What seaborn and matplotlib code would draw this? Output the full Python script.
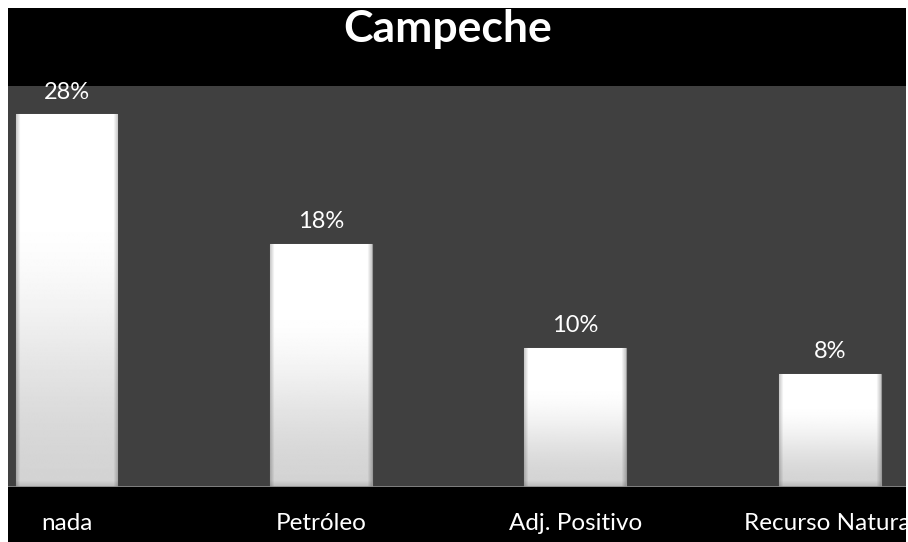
import numpy as np
import matplotlib
matplotlib.use("Agg")
import matplotlib.pyplot as plt
from matplotlib.patches import Rectangle
import seaborn as sns

# ---- data ----
categories = ["nada", "Petróleo", "Adj. Positivo", "Recurso Natural"]
values = [27.6, 18.0, 10.3, 8.4]
value_labels = ["28%", "18%", "10%", "8%"]
title = "Campeche"

sns.set_theme(style="dark")
plt.rcParams["font.family"] = ["Lato", "DejaVu Sans"]

W, H = 908, 542
fig = plt.figure(figsize=(W / 100, H / 100), dpi=100, facecolor="black")
ax = fig.add_axes([8 / W, (H - 487) / H, (906 - 8) / W, (487 - 86) / H])
ax.set_facecolor("#404040")

sns.barplot(x=categories, y=values, color="white", width=0.4, ax=ax,
            saturation=1, edgecolor="#9a9a9a", linewidth=0.8, zorder=2)

ax.set_xlim(-0.23, 3.30)
ax.set_ylim(0, 29.7)
for s in ax.spines.values():
    s.set_visible(False)
ax.axhline(0, color="#8a8a8a", lw=1.2, zorder=3)
ax.set_yticks([])
ax.set_xticks(range(len(categories)))
ax.set_xticklabels(categories, color="white", fontsize=17.5)
ax.tick_params(axis="x", length=0, pad=18.5)
ax.set_xlabel("")
ax.set_ylabel("")
ax.grid(False)

# gradient / bevel fill clipped to each bar
def bar_image(nrows, ncols):
    v = np.linspace(1, 0, nrows)[:, None]          # 1 at top, 0 at bottom
    u = np.linspace(0, 1, ncols)[None, :]
    t = np.clip(v / 0.75, 0, 1)
    base = 0.83 + 0.17 * (t * t * (3 - 2 * t))
    edge_px = 4.0
    du = np.minimum(u, 1 - u) * ncols
    side = np.clip(du / edge_px, 0, 1)
    dv = v * nrows
    bottom = np.clip(dv / 6.0, 0, 1)
    img = base * (0.80 + 0.20 * side) * (0.88 + 0.12 * bottom)
    return np.clip(img, 0, 1)

for p in ax.patches:
    x0, y0 = p.get_x(), p.get_y()
    w, h = p.get_width(), p.get_height()
    (px0, py0), (px1, py1) = ax.transData.transform([(x0, y0), (x0 + w, y0 + h)])
    nr, nc = max(int(abs(py1 - py0)), 2), max(int(abs(px1 - px0)), 2)
    img = bar_image(nr, nc)
    im = ax.imshow(img, cmap="gray", vmin=0, vmax=1, aspect="auto",
                   extent=(x0, x0 + w, y0, y0 + h), origin="upper",
                   interpolation="bilinear", zorder=2.5)
    im.set_clip_path(p)

ax.set_xlim(-0.23, 3.30)
ax.set_ylim(0, 29.7)

for i, (v, lab) in enumerate(zip(values, value_labels)):
    ax.annotate(lab, (i, v), xytext=(0, 16), textcoords="offset points",
                ha="center", va="center", color="white", fontsize=17, zorder=5)

fig.text(448 / W, (H - 42) / H, title, ha="center", va="baseline",
         color="white", fontsize=32, fontweight="bold")

# white border strips (top, left, right) drawn on top
for (x, y, w, h) in [(0, H - 8, W, 8), (0, 0, 8, H), (906, 0, 2, H)]:
    fig.add_artist(Rectangle((x / W, y / H), w / W, h / H, transform=fig.transFigure,
                             facecolor="white", edgecolor="none", zorder=10))

fig.savefig("out.png", dpi=100, facecolor=fig.get_facecolor())
